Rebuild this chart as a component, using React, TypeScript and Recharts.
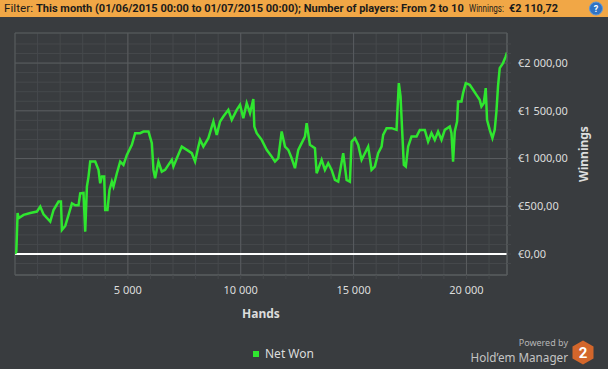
import React, { useLayoutEffect, useRef, useState } from "react";
import {
  LineChart,
  Line,
  XAxis,
  YAxis,
  CartesianGrid,
  ReferenceLine,
  ReferenceArea,
} from "recharts";

// ---- data ----
const hands = [
  0, 58, 115, 160, 380, 677, 973, 1119, 1265, 1562, 1708, 1929, 2035, 2080, 2226, 2372, 2522, 2668, 2814, 2889,
  3035, 3111, 3186, 3257, 3332, 3553, 3699, 3774, 3850, 3951, 3996, 4097, 4186, 4292, 4363, 4513, 4659, 4805, 4956,
  5177, 5323, 5544, 5690, 5912, 6062, 6133, 6208, 6354, 6504, 6650, 6796, 6947, 7018, 7168, 7389, 7611, 7832, 7978,
  8124, 8199, 8345, 8566, 8788, 8938, 9084, 9230, 9451, 9602, 9823, 9969, 10115, 10265, 10411, 10558, 10602, 10708,
  10929, 11150, 11372, 11518, 11664, 11814, 11960, 12106, 12257, 12403, 12549, 12699, 12845, 12920, 13066, 13288,
  13363, 13584, 13730, 13876, 14027, 14173, 14319, 14540, 14690, 14836, 14912, 15058, 15204, 15354, 15500, 15646,
  15796, 15942, 16088, 16239, 16310, 16460, 16681, 16903, 16929, 17004, 17080, 17150, 17226, 17314, 17416, 17566,
  17788, 17934, 18155, 18301, 18451, 18597, 18743, 18894, 19040, 19261, 19336, 19407, 19482, 19584, 19628, 19779,
  19850, 19969, 20146, 20292, 20442, 20588, 20664, 20765, 20854, 20912, 21031, 21150, 21252, 21327, 21398, 21473,
  21619, 21739, 21796,
];
const netWon = [
  0, 24, 430, 375, 410, 430, 445, 496, 415, 339, 461, 549, 549, 252, 294, 409, 531, 510, 510, 636,
  640, 234, 706, 811, 968, 968, 881, 741, 811, 811, 461, 461, 671, 758, 706, 846, 968, 933, 1038,
  1143, 1266, 1266, 1283, 1283, 1161, 881, 794, 968, 863, 881, 933, 986, 916, 1003, 1125, 1091, 1056, 968,
  1125, 1196, 1125, 1213, 1388, 1248, 1388, 1440, 1510, 1405, 1510, 1563, 1423, 1580, 1475, 1622, 1335, 1266,
  1196, 1091, 1020, 968, 1003, 1283, 1125, 1091, 1003, 899, 1091, 1161, 1230, 1371, 1143, 1108,
  846, 986, 881, 951, 881, 776, 758, 1056, 776, 758, 1178, 1213, 1143, 986, 1056, 1125,
  881, 916, 1056, 1125, 1248, 1318, 1318, 1300, 1440, 1790, 1650, 1300, 933, 916, 1125, 1230,
  1230, 1300, 1300, 1178, 1266, 1196, 1283, 1196, 1300, 1335, 1266, 968, 1283, 1388, 1597, 1597,
  1685, 1790, 1772, 1720, 1667, 1615, 1545, 1580, 1738, 1405, 1300, 1213, 1300, 1492, 1755, 1947,
  2000, 2069, 2110.72,
];
const xTicks = [1000, 2000, 3000, 4000, 5000, 6000, 7000, 8000, 9000, 10000, 11000, 12000, 13000, 14000, 15000, 16000, 17000, 18000, 19000, 20000, 21000];
const xMajor = [5000, 10000, 15000, 20000];
const yTicks = [-100, 0, 100, 200, 300, 400, 500, 600, 700, 800, 900, 1000, 1100, 1200, 1300, 1400, 1500, 1600, 1700, 1800, 1900, 2000, 2100, 2200];
const yMajor = [500, 1000, 1500, 2000];
const xDomain = [0, 21796];
const yDomain = [-220, 2315];
const seriesName = "Net Won";
const filterLabel = "Filter:";
const filterValue = "This month (01/06/2015 00:00 to 01/07/2015 00:00); Number of players: From 2 to 10";
const winningsLabel = "Winnings:";
const totalWinnings = "€2 110,72";

const data = hands.map((h, i) => ({ hands: h, won: netWon[i] }));

const BG = "#393c3f";
const MINOR = "#46494c";
const MAJOR = "#595c5f";
const TEXT = "#dcdcdc";
const GREEN = "#2fe62f";
const FONT = "'Noto Sans', 'Open Sans', sans-serif";

const sep = (v: number) => String(Math.abs(v)).replace(/\B(?=(\d{3})+(?!\d))/g, " ");
const fmtX = (v: number) => (v % 5000 === 0 ? sep(v) : "");
const fmtY = (v: number) => (v % 500 === 0 && v >= 0 ? "€" + sep(v) + ",00" : "");

// SVG text squeezed horizontally (via transform) to a given width
function FitText(props: { x: number; y: number; width: number; bold?: boolean; children: string }) {
  const ref = useRef<SVGTextElement>(null);
  const [s, setS] = useState(1);
  useLayoutEffect(() => {
    if (ref.current) {
      const w = ref.current.getComputedTextLength();
      if (w > 0) setS(props.width / w);
    }
  }, [props.width, props.children]);
  return (
    <text
      ref={ref}
      transform={`translate(${props.x} ${props.y}) scale(${s} 1)`}
      fontWeight={props.bold ? 700 : 400}
    >
      {props.children}
    </text>
  );
}

export default function App() {
  return (
    <div
      style={{
        position: "absolute",
        left: 0,
        top: 0,
        width: 608,
        height: 369,
        background: BG,
        overflow: "hidden",
        fontFamily: FONT,
      }}
    >
      <LineChart
        width={608}
        height={369}
        data={data}
        margin={{ top: 33, right: 0, bottom: 51, left: 15 }}
      >
        <CartesianGrid stroke={MINOR} strokeWidth={1} />
        {xMajor.map((v) => (
          <ReferenceLine key={"xm" + v} x={v} stroke={MAJOR} strokeWidth={1} />
        ))}
        {yMajor.map((v) => (
          <ReferenceLine key={"ym" + v} y={v} stroke={MAJOR} strokeWidth={1} />
        ))}
        <ReferenceArea
          x1={xDomain[0]}
          x2={xDomain[1]}
          y1={yDomain[0]}
          y2={yDomain[1]}
          fill="none"
          fillOpacity={0}
          stroke={MAJOR}
          strokeWidth={1}
          ifOverflow="extendDomain"
        />
        <XAxis
          type="number"
          dataKey="hands"
          domain={xDomain}
          ticks={xTicks}
          interval={0}
          tickFormatter={fmtX}
          tickSize={4}
          tickMargin={7}
          height={43}
          stroke={MAJOR}
          tickLine={{ stroke: MINOR }}
          tick={{ fill: TEXT, fontSize: 11, fontFamily: FONT }}
          allowDataOverflow
          label={(props: any) => {
            const vb = props.viewBox || {};
            return (
              <text
                x={vb.x + vb.width / 2}
                y={vb.y + vb.height}
                textAnchor="middle"
                fill={TEXT}
                fontSize={12}
                fontWeight={700}
                fontFamily={FONT}
              >
                Hands
              </text>
            );
          }}
        />
        <YAxis
          orientation="right"
          type="number"
          domain={yDomain}
          ticks={yTicks}
          interval={0}
          tickFormatter={fmtY}
          tickSize={4}
          tickMargin={7}
          width={101}
          stroke={MAJOR}
          tickLine={{ stroke: MINOR }}
          tick={{ fill: TEXT, fontSize: 11, fontFamily: FONT }}
          allowDataOverflow
          label={(props: any) => {
            const vb = props.viewBox || {};
            const cx = vb.x + 76;
            const cy = vb.y + vb.height / 2;
            return (
              <text
                x={cx}
                y={cy}
                transform={`rotate(-90 ${cx} ${cy})`}
                textAnchor="middle"
                dominantBaseline="central"
                fill={TEXT}
                fontSize={12}
                fontWeight={700}
                fontFamily={FONT}
              >
                Winnings
              </text>
            );
          }}
        />
        <ReferenceLine y={0} stroke="#ffffff" strokeWidth={2} />
        <Line
          type="linear"
          dataKey="won"
          name={seriesName}
          stroke={GREEN}
          strokeWidth={2.5}
          dot={false}
          activeDot={false}
          isAnimationActive={false}
        />
      </LineChart>

      {/* header filter bar */}
      <svg
        width={608}
        height={17}
        style={{ position: "absolute", left: 0, top: 0 }}
      >
        <rect x={0} y={0} width={608} height={17} fill="#f1a746" />
        <g fontFamily="Roboto, 'Noto Sans', sans-serif" fontSize={11} fill="#1b1b1b">
          <FitText x={4} y={12} width={29}>{filterLabel}</FitText>
          <FitText x={36} y={12} width={428} bold>{filterValue}</FitText>
          <FitText x={469} y={12} width={35}>{winningsLabel}</FitText>
          <FitText x={509} y={12} width={49} bold>{totalWinnings}</FitText>
        </g>
        <circle cx={596} cy={8.5} r={6.5} fill="#2f73c4" stroke="#5d97da" strokeWidth={1} />
        <text x={596} y={12} textAnchor="middle" fontSize={9} fontWeight={700} fill="#ffffff" fontFamily="Roboto, sans-serif">
          ?
        </text>
      </svg>

      {/* legend */}
      <div
        style={{
          position: "absolute",
          left: 253,
          top: 346,
          display: "flex",
          alignItems: "center",
          color: TEXT,
          fontSize: 12,
          fontFamily: FONT,
          lineHeight: "16px",
          whiteSpace: "nowrap",
        }}
      >
        <span style={{ display: "inline-block", width: 6, height: 6, background: GREEN, marginRight: 6 }} />
        <span>{seriesName}</span>
      </div>

      {/* powered by logo */}
      <div
        style={{
          position: "absolute",
          right: 40,
          top: 337,
          textAlign: "right",
          color: "#b5b5b5",
          fontFamily: FONT,
          whiteSpace: "nowrap",
        }}
      >
        <div style={{ fontSize: 9, lineHeight: "12px" }}>Powered by</div>
        <div style={{ fontSize: 11.7, lineHeight: "16px", color: "#c4c4c4" }}>Hold’em Manager</div>
      </div>
      <svg width={24} height={26} style={{ position: "absolute", left: 571, top: 340 }}>
        <polygon points="12,0.5 22.5,6.5 22.5,18.5 12,24.5 1.5,18.5 1.5,6.5" fill="#d3662b" />
        <text
          x={12}
          y={17.5}
          textAnchor="middle"
          fontSize={15}
          fontWeight={700}
          fill="#ffffff"
          fontFamily="Roboto, sans-serif"
        >
          2
        </text>
      </svg>
    </div>
  );
}
